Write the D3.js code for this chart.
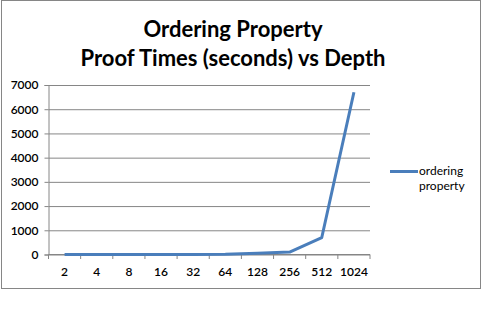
<!DOCTYPE html>
<html>
<head>
<meta charset="utf-8">
<script src="https://cdn.jsdelivr.net/npm/d3@7"></script>
<style>
	body { margin: 0; background: #fff; }
	text { font-family: Lato, "Open Sans", sans-serif; fill: #000; }
</style>
</head>
<body>
<div id="chart"></div>
<script>
const depths = ["2", "4", "8", "16", "32", "64", "128", "256", "512", "1024"];
const proofTimes = [1, 1, 1, 2, 3, 10, 50, 100, 700, 6700];
const yTicks = [0, 1000, 2000, 3000, 4000, 5000, 6000, 7000];
const titleLines = ["Ordering Property", "Proof Times (seconds) vs Depth"];
const seriesName = ["ordering", "property"];

const W = 503, H = 317;
const plot = { left: 48.5, right: 370, top: 85, bottom: 254.5 };
const lineColor = "#4a7ebb";
const gridColor = "#868686";

const svg = d3.select("#chart").append("svg")
	.attr("width", W)
	.attr("height", H);

// chart frame
svg.append("rect")
	.attr("x", 1.5).attr("y", 0.5)
	.attr("width", 479).attr("height", 288)
	.attr("fill", "#fff")
	.attr("stroke", gridColor);

const x = d3.scaleBand()
	.domain(depths)
	.range([plot.left, plot.right]);

const y = d3.scaleLinear()
	.domain([0, 7000])
	.range([plot.bottom, plot.top]);

// gridlines + y axis
svg.append("g")
	.attr("transform", `translate(${plot.left},0)`)
	.call(d3.axisLeft(y).tickValues(yTicks).tickFormat(d3.format("d")).tickSize(4).tickPadding(6))
	.call(g => g.select(".domain").attr("stroke", gridColor))
	.call(g => g.selectAll(".tick line").attr("stroke", gridColor))
	.call(g => g.selectAll(".tick").append("line")
		.attr("x1", 0).attr("x2", plot.right - plot.left)
		.attr("stroke", gridColor))
	.call(g => g.selectAll("text").attr("font-size", "12px").attr("font-weight", 600));

// x axis, ticks between categories
const xAxis = svg.append("g")
	.attr("transform", `translate(0,${plot.bottom})`);

xAxis.append("line")
	.attr("x1", plot.left).attr("x2", plot.right)
	.attr("stroke", gridColor);

xAxis.selectAll(".xtick")
	.data(depths.concat([null]))
	.enter().append("line")
	.attr("x1", d => d === null ? x.range()[1] : x(d))
	.attr("x2", d => d === null ? x.range()[1] : x(d))
	.attr("y1", 0).attr("y2", 4.5)
	.attr("stroke", gridColor);

xAxis.selectAll(".xlabel")
	.data(depths)
	.enter().append("text")
	.attr("x", d => x(d) + x.bandwidth() / 2)
	.attr("y", 21)
	.attr("text-anchor", "middle")
	.attr("font-size", "12px")
	.attr("font-weight", 600)
	.text(d => d);

// series
const line = d3.line()
	.x((d, i) => x(depths[i]) + x.bandwidth() / 2)
	.y(d => y(d));

svg.append("path")
	.datum(proofTimes)
	.attr("d", line)
	.attr("fill", "none")
	.attr("stroke", lineColor)
	.attr("stroke-width", 3)
	.attr("stroke-linejoin", "round");

// title
svg.append("g").selectAll("text")
	.data(titleLines)
	.enter().append("text")
	.attr("x", 233)
	.attr("y", (d, i) => 37 + i * 29)
	.attr("text-anchor", "middle")
	.attr("font-size", "22px")
	.attr("font-weight", 700)
	.text(d => d);

// legend
const legend = svg.append("g");
legend.append("line")
	.attr("x1", 390).attr("x2", 418)
	.attr("y1", 171.5).attr("y2", 171.5)
	.attr("stroke", lineColor)
	.attr("stroke-width", 3);

legend.selectAll("text")
	.data(seriesName)
	.enter().append("text")
	.attr("x", 419)
	.attr("y", (d, i) => 175 + i * 15)
	.attr("font-size", "12px")
	.text(d => d);
</script>
</body>
</html>
